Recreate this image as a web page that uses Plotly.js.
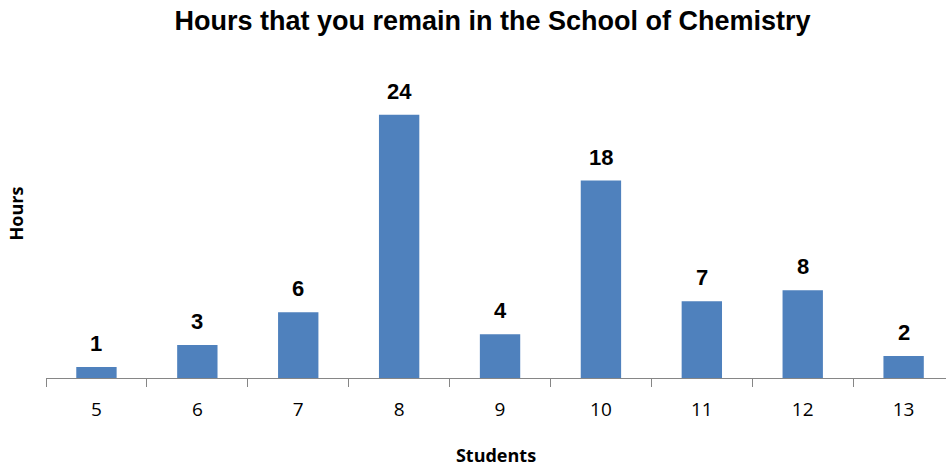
<!DOCTYPE html>
<html>
<head>
<meta charset="utf-8">
<script src="https://cdn.plot.ly/plotly-3.0.1.min.js"></script>
<style>html,body{margin:0;padding:0;background:#fff;}#chart{width:946px;height:470px;}</style>
</head>
<body>
<div id="chart"></div>
<script>
const students = ["5", "6", "7", "8", "9", "10", "11", "12", "13"];
const hours = [1, 3, 6, 24, 4, 18, 7, 8, 2];
const chartTitle = "Hours that you remain in the School of Chemistry";
const xTitle = "Students";
const yTitle = "Hours";

const trace = {
  type: "bar",
  x: students,
  y: hours,
  width: 0.4,
  marker: {color: "#4F81BD"},
  hoverinfo: "x+y"
};

// category axis: annotation x given as category index
const annotations = students.map((s, i) => ({
  x: i, y: hours[i], xref: "x", yref: "y",
  text: "<b>" + hours[i] + "</b>",
  showarrow: false,
  yanchor: "bottom",
  yshift: 9,
  font: {family: "Liberation Sans, Arial, sans-serif", size: 22, color: "#000"}
}));

const layout = {
  width: 946, height: 470,
  margin: {l: 46, r: 0, t: 49, b: 92, pad: 0},
  paper_bgcolor: "#fff", plot_bgcolor: "#fff",
  showlegend: false,
  title: {
    text: "<b>" + chartTitle + "</b>",
    xref: "container", x: 0.5206, xanchor: "center",
    yref: "container", y: 1 - 21/470, yanchor: "middle",
    font: {family: "Liberation Sans, Arial, sans-serif", size: 27, color: "#000"}
  },
  xaxis: {
    type: "category",
    range: [-0.5, 8.42],
    tickson: "boundaries",
    ticks: "outside", ticklen: 8, tickcolor: "#868686", tickwidth: 1,
    showline: true, linecolor: "#868686", linewidth: 1,
    showgrid: false, zeroline: false,
    ticklabelstandoff: 14,
    tickfont: {family: "Open Sans, sans-serif", size: 19, color: "#000"},
    title: {text: "<b>" + xTitle + "</b>", standoff: 28,
      font: {family: "Open Sans, sans-serif", size: 18, color: "#000"}}
  },
  yaxis: {
    range: [0, 30],
    showgrid: false, zeroline: false, showline: false,
    showticklabels: false, ticks: "",
    title: {text: "<b>" + yTitle + "</b>", standoff: 16,
      font: {family: "Open Sans, sans-serif", size: 18, color: "#000"}}
  },
  annotations: annotations
};

Plotly.newPlot("chart", [trace], layout, {displayModeBar: false, staticPlot: true});
</script>
</body>
</html>
